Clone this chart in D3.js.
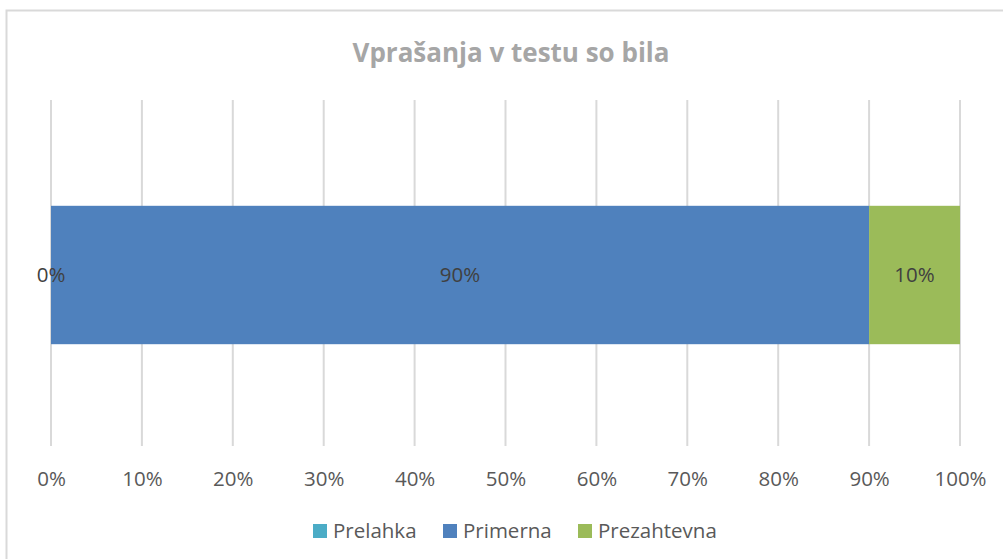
<!DOCTYPE html>
<html>
<head>
<meta charset="utf-8">
<script src="https://cdn.jsdelivr.net/npm/d3@7"></script>
<style>
  body { margin: 0; background: #fff; }
  svg { display: block; font-family: "Open Sans", sans-serif; }
</style>
</head>
<body>
<svg id="chart"></svg>
<script>
// data
var categories = ["Vprašanja"];
var seriesNames = ["Prelahka", "Primerna", "Prezahtevna"];
var seriesValues = [0, 0.9, 0.1];
var seriesColors = ["#4bacc6", "#4f81bd", "#9bbb59"];
var tickValues = [0, 0.1, 0.2, 0.3, 0.4, 0.5, 0.6, 0.7, 0.8, 0.9, 1];

var W = 1003, H = 559;
var svg = d3.select("#chart").attr("width", W).attr("height", H);

// chart border
svg.append("rect").attr("x", 6.5).attr("y", 10.5).attr("width", W + 10).attr("height", H + 10)
  .attr("fill", "none").attr("stroke", "#d9d9d9").attr("stroke-width", 2);

svg.append("text").attr("x", 511).attr("y", 62).attr("text-anchor", "middle")
  .attr("font-size", 26).attr("font-weight", "bold").attr("fill", "#a6a6a6")
  .text("Vprašanja v testu so bila");

var x = d3.scaleLinear().domain([0, 1]).range([51, 960]);
var y = d3.scaleBand().domain(categories).range([102, 448]).paddingInner(0.6).paddingOuter(0.3);

// gridlines
svg.append("g").selectAll("line").data(tickValues).enter().append("line")
  .attr("x1", function(d){ return x(d); }).attr("x2", function(d){ return x(d); })
  .attr("y1", 100).attr("y2", 446)
  .attr("stroke", "#d9d9d9").attr("stroke-width", 2);

// stacked bars
var cum = 0;
var stacked = seriesValues.map(function(v, i){
  var s = {name: seriesNames[i], x0: cum, x1: cum + v, v: v, color: seriesColors[i]};
  cum += v;
  return s;
});

var bars = svg.append("g");
bars.selectAll("rect").data(stacked).enter().append("rect")
  .attr("x", function(d){ return x(d.x0); })
  .attr("width", function(d){ return x(d.x1) - x(d.x0); })
  .attr("y", y(categories[0])).attr("height", y.bandwidth())
  .attr("fill", function(d){ return d.color; });

bars.selectAll("text").data(stacked).enter().append("text")
  .attr("x", function(d){ return (x(d.x0) + x(d.x1)) / 2; })
  .attr("y", y(categories[0]) + y.bandwidth() / 2 + 7)
  .attr("text-anchor", "middle").attr("font-size", 20.5).attr("fill", "#404040")
  .text(function(d){ return Math.round(d.v * 100) + "%"; });

// x axis labels
var axis = d3.axisBottom(x).tickValues(tickValues).tickFormat(d3.format(".0%")).tickSize(0).tickPadding(0);
var ax = svg.append("g").attr("transform", "translate(0,486)").call(axis);
ax.select(".domain").remove();
ax.selectAll("text").attr("font-size", 20.5).attr("fill", "#595959").attr("font-family", "'Open Sans', sans-serif").attr("dy", 0);

// legend
var legendX = [313, 443, 578];
var leg = svg.append("g").selectAll("g").data(seriesNames).enter().append("g")
  .attr("transform", function(d, i){ return "translate(" + legendX[i] + ",524)"; });
leg.append("rect").attr("width", 14).attr("height", 14)
  .attr("fill", function(d, i){ return seriesColors[i]; });
leg.append("text").attr("x", 20).attr("y", 14).attr("font-size", 20.5).attr("fill", "#595959")
  .text(function(d){ return d; });
</script>
</body>
</html>
